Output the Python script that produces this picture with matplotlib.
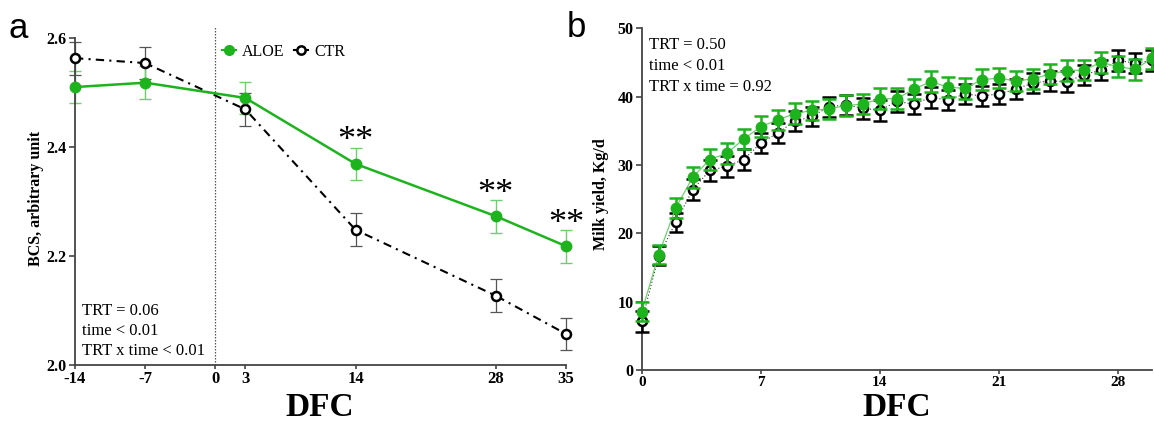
import matplotlib
matplotlib.use('Agg')
import matplotlib.pyplot as plt
from matplotlib.lines import Line2D

plt.rcParams['font.family'] = 'Liberation Serif'
plt.rcParams['axes.unicode_minus'] = False

# ---- data, panel a (BCS) ----
bcs_days = [-14, -7, 3, 14, 28, 35]
bcs_aloe = [2.510, 2.518, 2.490, 2.369, 2.273, 2.218]
bcs_aloe_se = [0.03, 0.03, 0.03, 0.03, 0.03, 0.03]
bcs_ctr = [2.563, 2.554, 2.469, 2.248, 2.127, 2.057]
bcs_ctr_se = [0.03, 0.03, 0.03, 0.03, 0.03, 0.03]
sig_days = [14, 28, 35]
sig_y = [2.399, 2.303, 2.248]

# ---- data, panel b (milk yield) ----
milk_days = [0, 1, 2, 3, 4, 5, 6, 7, 8, 9, 10, 11, 12, 13, 14, 15,
             16, 17, 18, 19, 20, 21, 22, 23, 24, 25, 26, 27, 28, 29, 30]
milk_aloe = [8.5, 16.9, 23.7, 28.2, 30.8, 31.7, 33.8, 35.6, 36.6, 37.5, 38.0,
             38.2, 38.7, 38.9, 39.7, 39.7, 41.1, 42.2, 41.4, 41.2, 42.5,
             42.7, 42.3, 42.6, 43.3, 43.8, 43.9, 45.0, 44.4, 44.0, 45.6]
milk_ctr = [7.1, 16.7, 21.6, 26.4, 29.2, 29.8, 30.8, 33.2, 34.7, 36.4, 37.1,
            38.5, 38.8, 38.3, 38.0, 39.3, 38.9, 39.9, 39.5, 40.4, 40.1,
            40.4, 41.1, 42.0, 42.3, 42.2, 43.2, 43.9, 45.3, 44.9, 45.3]
milk_aloe_se = [1.4, 1.4, 1.4, 1.5, 1.5, 1.5, 1.5, 1.5, 1.5, 1.5, 1.4,
                1.5, 1.5, 1.5, 1.5, 1.5, 1.5, 1.5, 1.5, 1.5, 1.5,
                1.5, 1.5, 1.5, 1.5, 1.5, 1.5, 1.5, 1.5, 1.5, 1.5]
milk_ctr_se = [1.5, 1.4, 1.4, 1.5, 1.5, 1.5, 1.5, 1.5, 1.5, 1.5, 1.4,
               1.5, 1.5, 1.5, 1.5, 1.5, 1.5, 1.5, 1.5, 1.5, 1.5,
               1.5, 1.5, 1.5, 1.5, 1.5, 1.5, 1.5, 1.5, 1.5, 1.5]

W, H = 1154, 423
green = '#1db31d'
lgreen = '#6fcf6f'
spine_c = '#444444'

fig = plt.figure(figsize=(W / 100, H / 100), dpi=100)


def style_axes(ax, xsize=12):
    for s in ['top', 'right']:
        ax.spines[s].set_visible(False)
    for s in ['left', 'bottom']:
        ax.spines[s].set_color(spine_c)
        ax.spines[s].set_linewidth(1.3)
    ax.tick_params(direction='out', length=4, width=1.2, color=spine_c, pad=2)
    ax.tick_params(axis='x', length=3, pad=1)
    plt.setp(ax.get_xticklabels(), fontweight='bold', fontsize=xsize)
    plt.setp(ax.get_yticklabels(), fontweight='bold', fontsize=11.5)


# ---------------- panel a ----------------
ax1 = fig.add_axes([75 / W, 1 - 365 / H, (566 - 75) / W, (365 - 38) / H])
ax1.plot([0, 0], [2.0, 2.62], color='#555555', lw=0.9, ls=(0, (1.2, 1.2)),
         clip_on=False, zorder=1)
ax1.errorbar(bcs_days, bcs_ctr, yerr=bcs_ctr_se, fmt='none', ecolor='#555555',
             elinewidth=0.9, capsize=4, capthick=0.9, clip_on=False, zorder=2)
ax1.errorbar(bcs_days, bcs_aloe, yerr=bcs_aloe_se, fmt='none', ecolor=lgreen,
             elinewidth=1.0, capsize=4, capthick=1.0, clip_on=False, zorder=2)
ax1.plot(bcs_days, bcs_ctr, color='black', lw=1.5, ls=(0, (4, 2.5, 1, 2.5)),
         marker='o', ms=6.5, mfc='white', mec='black', mew=1.8,
         clip_on=False, zorder=3)
ax1.plot(bcs_days, bcs_aloe, color=green, lw=1.8, marker='o', ms=7.5,
         mfc=green, mec=green, clip_on=False, zorder=4)
for d, y in zip(sig_days, sig_y):
    ax1.annotate('**', (d, y), xytext=(0, -2), textcoords='offset points',
                 ha='center', va='baseline', fontsize=26, clip_on=False)
ax1.set_xlim(-14, 35)
ax1.set_ylim(2.0, 2.6)
ax1.set_xticks([-14, -7, 0, 3, 14, 28, 35])
ax1.set_yticks([2.0, 2.2, 2.4, 2.6])
ax1.set_yticklabels(['2.0', '2.2', '2.4', '2.6'])
style_axes(ax1, 12)

handles = [Line2D([], [], color=green, marker='o', ms=7, lw=1.5),
           Line2D([], [], color='black', marker='o', ms=6, mfc='white',
                  mew=1.8, lw=1.5)]
ax1.legend(handles, ['ALOE', 'CTR'], loc='center left', ncol=2,
           bbox_to_anchor=(222 / W, 1 - 52 / H), bbox_transform=fig.transFigure,
           frameon=False, fontsize=11.5, handlelength=0.9, handletextpad=0.35,
           columnspacing=0.6, borderpad=0, borderaxespad=0)

for i, t in enumerate(['TRT = 0.06', 'time < 0.01', 'TRT x time < 0.01']):
    fig.text(82 / W, 1 - (315 + 20 * i) / H, t, fontsize=12, va='baseline')

fig.text(320 / W, 1 - 416 / H, 'DFC', fontsize=24, fontweight='bold',
         ha='center', va='baseline')
fig.text(36 / W, 1 - 198 / H, 'BCS, arbitrary unit', fontsize=11.5,
         fontweight='bold', rotation=90, ha='center', va='center')
fig.text(18 / W, 1 - 38 / H, 'a', fontsize=25, family='Liberation Sans',
         ha='center', va='baseline')

# ---------------- panel b ----------------
ax2 = fig.add_axes([641.7 / W, 1 - 370 / H, (1152 - 641.7) / W, (370 - 28.3) / H])
ax2.plot(milk_days, milk_ctr, color='#333333', lw=0.8, ls=(0, (1, 2)),
         zorder=2, clip_on=False)
ax2.errorbar(milk_days, milk_ctr, yerr=milk_ctr_se, fmt='o', color='black',
             ms=6.5, mfc='white', mec='black', mew=1.8, elinewidth=1.8,
             capsize=5, capthick=1.8, zorder=3, clip_on=False)
ax2.plot(milk_days, milk_aloe, color=lgreen, lw=0.9, zorder=4, clip_on=False)
ax2.errorbar(milk_days, milk_aloe, yerr=milk_aloe_se, fmt='o', color=green,
             ms=7.5, mfc=green, mec=green, elinewidth=1.8, capsize=5,
             capthick=1.8, zorder=5, clip_on=False)
ax2.set_xlim(0, 30)
ax2.set_ylim(0, 50)
ax2.set_xticks([0, 7, 14, 21, 28])
ax2.set_yticks([0, 10, 20, 30, 40, 50])
style_axes(ax2, 11)

for i, t in enumerate(['TRT = 0.50', 'time < 0.01', 'TRT x time = 0.92']):
    fig.text(649 / W, 1 - (49 + 20.8 * i) / H, t, fontsize=12, va='baseline')

fig.text(897 / W, 1 - 416 / H, 'DFC', fontsize=24, fontweight='bold',
         ha='center', va='baseline')
fig.text(601 / W, 1 - 194 / H, 'Milk yield, Kg/d', fontsize=11.5,
         fontweight='bold', rotation=90, ha='center', va='center')
fig.text(576 / W, 1 - 37 / H, 'b', fontsize=25, family='Liberation Sans',
         ha='center', va='baseline')

fig.savefig('out.png', dpi=100)
